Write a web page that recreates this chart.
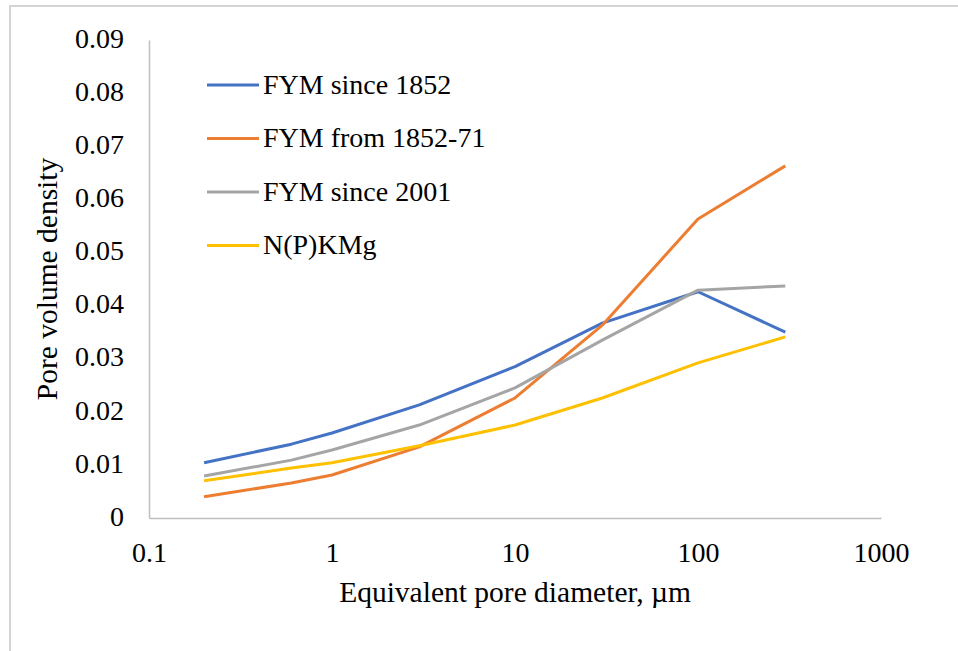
<!DOCTYPE html>
<html>
<head>
<meta charset="utf-8">
<script src="https://cdn.jsdelivr.net/npm/d3@7"></script>
<style>
  html, body { margin: 0; padding: 0; background: #fff; }
  svg text { font-family: "Liberation Serif", "Times New Roman", serif; fill: #000; }
</style>
</head>
<body>
<div id="main"></div>
<script>
const width = 958;
const height = 651;
const margin = { left: 149, right: 77, top: 40, bottom: 133 };
const serif = '"Liberation Serif", "Times New Roman", serif';

// pore diameter classes (µm)
const diameters = [0.2, 0.6, 1, 3, 10, 30, 100, 300];

const fymSince1852 = [0.0104, 0.0139, 0.016, 0.0213, 0.0285, 0.0367, 0.0426, 0.035];
const fym1852to71 = [0.004, 0.0066, 0.0081, 0.0134, 0.0226, 0.0363, 0.0563, 0.0663];
const fymSince2001 = [0.0079, 0.0109, 0.0128, 0.0175, 0.0245, 0.0335, 0.0429, 0.0437];
const npkmg = [0.007, 0.0094, 0.0104, 0.0136, 0.0175, 0.0226, 0.0292, 0.0341];

const seriesNames = ["FYM since 1852", "FYM from 1852-71", "FYM since 2001", "N(P)KMg"];
const seriesColors = ["#4472C4", "#ED7D31", "#A5A5A5", "#FFC000"];
const seriesValues = [fymSince1852, fym1852to71, fymSince2001, npkmg];

const xTicks = [0.1, 1, 10, 100, 1000];
const yTicks = [0, 0.01, 0.02, 0.03, 0.04, 0.05, 0.06, 0.07, 0.08, 0.09];

const svg = d3
  .select("#main")
  .append("svg")
  .attr("width", width)
  .attr("height", height);

// outer frame (cropped on the right and bottom)
svg
  .append("path")
  .attr("d", `M10,${height} V6 H${width}`)
  .attr("fill", "none")
  .attr("stroke", "#d4d4d4")
  .attr("stroke-width", 2);

const x = d3
  .scaleLog()
  .domain([0.1, 1000])
  .range([margin.left, width - margin.right]);

const y = d3
  .scaleLinear()
  .domain([0, 0.09])
  .range([height - margin.bottom, margin.top]);

// axes
const xAxis = svg
  .append("g")
  .attr("transform", `translate(0,${y(0)})`)
  .call(
    d3
      .axisBottom(x)
      .tickValues(xTicks)
      .tickSize(0)
      .tickPadding(24)
      .tickFormat((d) => String(d))
  );

const yAxis = svg
  .append("g")
  .attr("transform", `translate(${x(0.1)},0)`)
  .call(
    d3
      .axisLeft(y)
      .tickValues(yTicks)
      .tickSize(0)
      .tickPadding(25)
      .tickFormat((d) => (d === 0 ? "0" : d3.format(".2f")(d)))
  );

[xAxis, yAxis].forEach((g) => {
  g.attr("font-family", serif).attr("font-size", 28);
  g.select(".domain").attr("stroke", "#bfbfbf").attr("stroke-width", 1.5);
});
yAxis.selectAll("text").attr("dy", "0.26em");

// lines
const line = d3
  .line()
  .x((d) => x(d[0]))
  .y((d) => y(d[1]));

seriesValues.forEach((vals, i) => {
  svg
    .append("path")
    .datum(diameters.map((d, j) => [d, vals[j]]))
    .attr("d", line)
    .attr("fill", "none")
    .attr("stroke", seriesColors[i])
    .attr("stroke-width", 3)
    .attr("stroke-linejoin", "round");
});

// legend
const legend = svg.append("g").attr("transform", "translate(207,85)");
seriesNames.forEach((name, i) => {
  const row = legend.append("g").attr("transform", `translate(0,${i * 53.5})`);
  row
    .append("line")
    .attr("x1", 0)
    .attr("x2", 52)
    .attr("stroke", seriesColors[i])
    .attr("stroke-width", 3);
  row
    .append("text")
    .attr("x", 56)
    .attr("dy", "0.32em")
    .attr("font-size", 28)
    .text(name);
});

// axis titles
svg
  .append("text")
  .attr("x", (x(0.1) + x(1000)) / 2)
  .attr("y", 602)
  .attr("text-anchor", "middle")
  .attr("font-size", 29.5)
  .text("Equivalent pore diameter, µm");

svg
  .append("text")
  .attr("transform", `translate(57,${(y(0) + y(0.09)) / 2}) rotate(-90)`)
  .attr("text-anchor", "middle")
  .attr("font-size", 29.5)
  .text("Pore volume density");
</script>
</body>
</html>
